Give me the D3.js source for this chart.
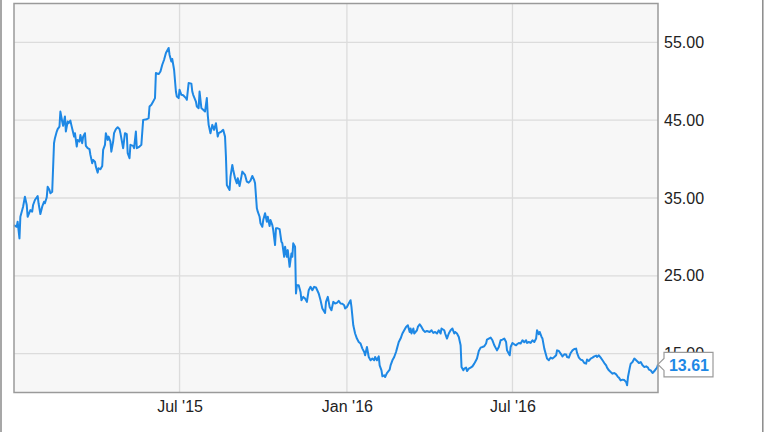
<!DOCTYPE html>
<html>
<head>
<meta charset="utf-8">
<script src="https://cdn.jsdelivr.net/npm/d3@7"></script>
<style>
  html, body { margin: 0; padding: 0; background: #fff; }
  svg { display: block; }
  text { font-family: "Liberation Sans", Arial, sans-serif; }
</style>
</head>
<body>
<svg id="chart" width="764" height="432"></svg>
<script>
// ---------------- DATA ----------------
const dates = [
"2014-12-31","2015-01-03","2015-01-04","2015-01-06","2015-01-07","2015-01-10","2015-01-12","2015-01-14","2015-01-15","2015-01-18",
"2015-01-20","2015-01-21","2015-01-23","2015-01-26","2015-01-27","2015-01-29","2015-01-31","2015-02-02","2015-02-03","2015-02-05",
"2015-02-06","2015-02-08","2015-02-09","2015-02-11","2015-02-13","2015-02-14","2015-02-16","2015-02-17","2015-02-19","2015-02-20",
"2015-02-22","2015-02-23","2015-02-25","2015-02-26","2015-02-28","2015-03-01","2015-03-03","2015-03-04","2015-03-06","2015-03-07",
"2015-03-08","2015-03-10","2015-03-11","2015-03-13","2015-03-14","2015-03-16","2015-03-17","2015-03-19","2015-03-20","2015-03-22",
"2015-03-24","2015-03-25","2015-03-27","2015-03-28","2015-03-30","2015-03-31","2015-04-02","2015-04-03","2015-04-05","2015-04-07",
"2015-04-08","2015-04-10","2015-04-11","2015-04-13","2015-04-14","2015-04-16","2015-04-17","2015-04-19","2015-04-20","2015-04-22",
"2015-04-24","2015-04-26","2015-04-27","2015-04-30","2015-05-02","2015-05-04","2015-05-05","2015-05-07","2015-05-08","2015-05-11",
"2015-05-12","2015-05-14","2015-05-15","2015-05-18","2015-05-20","2015-05-22","2015-05-26","2015-05-28","2015-05-29","2015-05-31",
"2015-06-02","2015-06-04","2015-06-05","2015-06-08","2015-06-10","2015-06-12","2015-06-14","2015-06-16","2015-06-19","2015-06-20",
"2015-06-22","2015-06-23","2015-06-25","2015-06-27","2015-06-28","2015-06-30","2015-07-01","2015-07-03","2015-07-05","2015-07-08",
"2015-07-09","2015-07-11","2015-07-14","2015-07-15","2015-07-16","2015-07-19","2015-07-20","2015-07-22","2015-07-23","2015-07-25",
"2015-07-27","2015-07-29","2015-07-31","2015-08-01","2015-08-02","2015-08-04","2015-08-06","2015-08-08","2015-08-10","2015-08-12",
"2015-08-13","2015-08-16","2015-08-18","2015-08-20","2015-08-21","2015-08-22","2015-08-23","2015-08-25","2015-08-26","2015-08-28",
"2015-08-29","2015-08-31","2015-09-02","2015-09-03","2015-09-05","2015-09-07","2015-09-08","2015-09-11","2015-09-13","2015-09-15",
"2015-09-17","2015-09-19","2015-09-21","2015-09-22","2015-09-24","2015-09-25","2015-09-27","2015-09-28","2015-09-30","2015-10-01",
"2015-10-03","2015-10-05","2015-10-06","2015-10-08","2015-10-09","2015-10-11","2015-10-12","2015-10-14","2015-10-15","2015-10-17",
"2015-10-19","2015-10-21","2015-10-22","2015-10-24","2015-10-25","2015-10-27","2015-10-28","2015-10-30","2015-11-01","2015-11-02",
"2015-11-03","2015-11-05","2015-11-06","2015-11-07","2015-11-09","2015-11-11","2015-11-12","2015-11-14","2015-11-16","2015-11-18",
"2015-11-20","2015-11-22","2015-11-24","2015-11-26","2015-11-28","2015-12-01","2015-12-03","2015-12-05","2015-12-08","2015-12-09",
"2015-12-11","2015-12-13","2015-12-15","2015-12-17","2015-12-19","2015-12-21","2015-12-23","2015-12-25","2015-12-27","2015-12-29",
"2015-12-30","2016-01-01","2016-01-03","2016-01-05","2016-01-06","2016-01-08","2016-01-10","2016-01-12","2016-01-14","2016-01-16",
"2016-01-18","2016-01-20","2016-01-21","2016-01-23","2016-01-24","2016-01-25","2016-01-27","2016-01-29","2016-01-31","2016-02-01",
"2016-02-03","2016-02-05","2016-02-06","2016-02-08","2016-02-09","2016-02-11","2016-02-12","2016-02-14","2016-02-17","2016-02-18",
"2016-02-20","2016-02-22","2016-02-24","2016-02-25","2016-02-27","2016-02-29","2016-03-02","2016-03-04","2016-03-06","2016-03-08",
"2016-03-10","2016-03-11","2016-03-12","2016-03-14","2016-03-15","2016-03-18","2016-03-19","2016-03-21","2016-03-23","2016-03-25",
"2016-03-27","2016-03-29","2016-04-01","2016-04-03","2016-04-05","2016-04-07","2016-04-09","2016-04-11","2016-04-13","2016-04-14",
"2016-04-17","2016-04-18","2016-04-20","2016-04-22","2016-04-24","2016-04-26","2016-04-28","2016-04-29","2016-05-01","2016-05-03",
"2016-05-05","2016-05-06","2016-05-08","2016-05-09","2016-05-11","2016-05-12","2016-05-14","2016-05-16","2016-05-18","2016-05-20",
"2016-05-21","2016-05-23","2016-05-25","2016-05-27","2016-05-29","2016-05-31","2016-06-02","2016-06-03","2016-06-05","2016-06-07",
"2016-06-09","2016-06-11","2016-06-13","2016-06-14","2016-06-16","2016-06-18","2016-06-20","2016-06-22","2016-06-24","2016-06-25",
"2016-06-26","2016-06-28","2016-06-29","2016-07-01","2016-07-03","2016-07-05","2016-07-06","2016-07-08","2016-07-10","2016-07-12",
"2016-07-14","2016-07-16","2016-07-17","2016-07-19","2016-07-21","2016-07-23","2016-07-25","2016-07-27","2016-07-28","2016-07-30",
"2016-07-31","2016-08-02","2016-08-03","2016-08-05","2016-08-07","2016-08-08","2016-08-10","2016-08-12","2016-08-14","2016-08-16",
"2016-08-18","2016-08-19","2016-08-21","2016-08-23","2016-08-25","2016-08-27","2016-08-29","2016-08-30","2016-09-01","2016-09-03",
"2016-09-05","2016-09-07","2016-09-09","2016-09-10","2016-09-12","2016-09-14","2016-09-16","2016-09-18","2016-09-20","2016-09-21",
"2016-09-23","2016-09-25","2016-09-27","2016-09-29","2016-10-01","2016-10-02","2016-10-04","2016-10-06","2016-10-08","2016-10-10",
"2016-10-12","2016-10-13","2016-10-15","2016-10-17","2016-10-19","2016-10-21","2016-10-23","2016-10-25","2016-10-26","2016-10-28",
"2016-10-30","2016-11-01","2016-11-03","2016-11-04","2016-11-05","2016-11-07","2016-11-08","2016-11-10","2016-11-12","2016-11-14",
"2016-11-16","2016-11-17","2016-11-19","2016-11-21","2016-11-23","2016-11-25","2016-11-27","2016-11-28","2016-11-30","2016-12-02",
"2016-12-04","2016-12-06","2016-12-07","2016-12-08"
];

const prices = [
31.52,31.30,31.95,29.81,32.59,33.88,35.17,34.10,32.59,33.45,
33.24,34.10,34.74,35.26,34.32,32.94,33.88,34.52,34.32,35.09,
36.45,36.03,35.60,35.81,42.04,42.69,43.54,43.85,44.18,46.11,
44.83,44.27,45.47,43.54,44.83,44.62,44.95,44.40,43.41,42.89,
43.33,41.61,42.47,42.25,43.11,42.04,42.89,43.33,41.70,41.40,
41.27,40.54,39.47,39.89,39.67,39.03,38.26,38.82,38.70,39.12,
41.18,41.83,43.33,42.47,42.89,42.25,40.96,42.25,43.33,43.85,
44.10,43.85,43.33,41.40,43.33,43.20,40.76,40.11,41.83,41.70,
41.40,43.54,41.40,41.61,41.83,45.04,45.13,45.26,46.76,46.98,
47.40,47.84,51.06,50.93,51.26,52.13,52.77,53.63,54.28,53.42,
52.55,52.86,51.48,48.69,48.04,47.84,48.91,48.26,48.20,47.84,
47.62,49.77,49.70,48.69,48.26,47.40,46.76,46.55,48.69,46.55,
46.33,46.11,47.84,45.69,44.40,43.33,44.40,43.76,44.62,42.89,
43.33,43.54,43.76,42.89,40.32,36.67,36.45,36.03,37.74,39.25,
38.61,37.54,36.89,37.54,36.54,37.74,38.39,37.96,37.10,36.97,
37.23,37.83,37.32,36.89,33.67,33.24,32.59,31.74,31.30,32.17,
33.03,31.95,32.59,31.39,32.17,31.52,30.88,28.95,31.10,31.10,
31.00,29.37,29.17,27.44,28.73,27.44,28.30,26.15,27.88,27.44,
29.17,28.73,22.73,23.80,23.80,22.93,21.86,22.29,22.08,21.65,
23.15,23.58,23.15,23.58,23.50,22.73,21.86,20.80,20.23,21.65,
22.29,21.00,20.58,21.65,21.44,21.52,21.77,21.44,21.40,21.22,
20.80,21.00,21.44,21.86,21.00,18.64,17.58,16.93,16.49,16.29,
15.64,15.21,14.78,15.85,15.21,14.56,14.14,14.36,14.14,14.56,
14.14,14.65,13.49,12.85,12.08,12.21,11.99,12.50,12.94,13.49,
14.14,14.56,15.21,15.64,16.49,16.93,17.58,18.00,18.43,18.64,
17.78,18.22,17.58,18.22,17.58,18.00,18.43,18.77,18.43,18.00,
17.78,17.91,17.78,18.00,17.65,17.78,17.58,18.00,17.58,18.22,
18.00,17.58,16.93,17.58,18.00,18.22,17.58,17.78,17.58,17.14,
16.07,13.27,12.85,13.07,13.20,12.76,13.07,13.20,13.36,13.71,
13.92,14.36,15.33,15.77,15.85,15.94,16.29,16.80,16.93,17.06,
16.71,16.07,15.64,15.42,15.85,16.71,16.80,16.93,16.49,15.42,
15.21,14.78,15.85,16.37,16.20,16.07,16.20,16.37,16.29,16.71,
16.46,16.71,16.37,16.49,16.37,16.71,16.49,16.93,18.00,17.49,
17.78,17.14,16.93,15.64,14.78,14.36,14.14,14.48,14.36,14.56,
14.78,15.42,15.33,15.00,14.65,14.91,14.90,14.56,14.48,15.08,
15.42,15.59,15.64,15.08,14.48,14.23,14.14,13.79,13.71,14.23,
14.05,14.36,14.48,14.65,14.74,14.56,14.78,14.48,14.14,13.79,
13.49,13.20,12.85,12.63,12.42,12.50,12.33,11.99,11.91,11.56,
11.65,11.60,11.34,10.92,11.99,13.20,13.71,13.92,14.36,14.14,
13.92,13.79,13.92,13.49,13.27,13.36,13.20,12.94,12.85,12.50,
12.76,13.07,13.20,13.61
];

const yTicks = [15, 25, 35, 45, 55];
const yDomain = [10, 60];
const xTickDates = ["2015-07-01", "2016-01-01", "2016-07-01"];
const xTickLabels = ["Jul '15", "Jan '16", "Jul '16"];

// ---------------- CHART ----------------
const parse = d3.timeParse("%Y-%m-%d");
const data = dates.map((d, i) => ({ date: parse(d), value: prices[i] }));

const W = 764, H = 432;
const plot = { left: 14, right: 658, top: 3.5, bottom: 392.5 };

const svg = d3.select("#chart");

const x = d3.scaleTime()
  .domain(d3.extent(data, d => d.date))
  .range([plot.left, plot.right]);
const y = d3.scaleLinear()
  .domain(yDomain)
  .range([plot.bottom, plot.top]);

// outer frame lines (left and right edges)
svg.append("line").attr("x1", 1).attr("x2", 1).attr("y1", 0).attr("y2", H)
  .attr("stroke", "#8a8a8a").attr("stroke-width", 1.5);
svg.append("line").attr("x1", 762.8).attr("x2", 762.8).attr("y1", 0).attr("y2", H)
  .attr("stroke", "#8a8a8a").attr("stroke-width", 1.5);

// plot background
svg.append("rect")
  .attr("x", plot.left).attr("y", plot.top)
  .attr("width", plot.right - plot.left).attr("height", plot.bottom - plot.top)
  .attr("fill", "#f7f7f7");

// gridlines
const grid = svg.append("g");
grid.selectAll("line.h").data(yTicks).join("line")
  .attr("class", "h")
  .attr("x1", plot.left).attr("x2", plot.right)
  .attr("y1", d => y(d)).attr("y2", d => y(d))
  .attr("stroke", "#dcdcdc").attr("stroke-width", 1.3);
grid.selectAll("line.v").data(xTickDates.map(parse)).join("line")
  .attr("class", "v")
  .attr("x1", d => x(d)).attr("x2", d => x(d))
  .attr("y1", plot.top).attr("y2", plot.bottom)
  .attr("stroke", "#dcdcdc").attr("stroke-width", 1.3);

// price line
const line = d3.line().x(d => x(d.date)).y(d => y(d.value));
svg.append("path")
  .datum(data)
  .attr("d", line)
  .attr("fill", "none")
  .attr("stroke", "#1e88e5")
  .attr("stroke-width", 2)
  .attr("stroke-linejoin", "round");

// plot border
svg.append("rect")
  .attr("x", plot.left).attr("y", plot.top)
  .attr("width", plot.right - plot.left).attr("height", plot.bottom - plot.top)
  .attr("fill", "none").attr("stroke", "#9a9a9a").attr("stroke-width", 1.5);

// y axis (right)
const yAxis = d3.axisRight(y).tickValues(yTicks).tickFormat(d3.format(".2f"))
  .tickSize(0).tickPadding(6);
const gy = svg.append("g").attr("transform", `translate(${plot.right},0)`).call(yAxis);
gy.select(".domain").remove();
gy.selectAll("text").attr("font-size", 16).attr("fill", "#222")
  .attr("font-family", "'Liberation Sans', Arial, sans-serif");

// x axis (bottom)
const xAxis = d3.axisBottom(x).tickValues(xTickDates.map(parse))
  .tickFormat((d, i) => xTickLabels[i]).tickSize(0).tickPadding(8.5);
const gx = svg.append("g").attr("transform", `translate(0,${plot.bottom})`).call(xAxis);
gx.select(".domain").remove();
gx.selectAll("text").attr("font-size", 16).attr("fill", "#222")
  .attr("font-family", "'Liberation Sans', Arial, sans-serif");

// last value callout
const last = data[data.length - 1];
const lx = x(last.date), ly = y(last.value);
const bx = lx + 6, bw = 49, bh = 24.5, by = ly - 12;
svg.append("path")
  .attr("d", `M${lx},${ly} L${bx},${ly - 6} L${bx},${by} L${bx + bw},${by} L${bx + bw},${by + bh} L${bx},${by + bh} L${bx},${ly + 6} Z`)
  .attr("fill", "#fff").attr("stroke", "#9a9a9a").attr("stroke-width", 1.2);
svg.append("text")
  .attr("x", bx + bw / 2 + 0.5).attr("y", by + 19)
  .attr("text-anchor", "middle")
  .attr("font-size", 16).attr("font-weight", "bold")
  .attr("fill", "#1e88e5")
  .text(d3.format(".2f")(last.value));
</script>
</body>
</html>
